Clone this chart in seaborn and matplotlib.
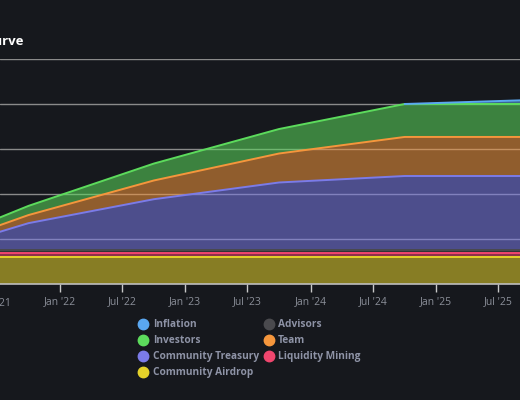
import pandas as pd
import matplotlib
matplotlib.use("Agg")
import matplotlib.pyplot as plt
import matplotlib.dates as mdates
from matplotlib.lines import Line2D
import seaborn as sns

# dati (milioni di token, valori per livello, non cumulati)
dates = ["2021-07-01", "2021-10-01", "2022-10-01", "2023-10-01", "2024-10-01", "2025-10-01"]
community_airdrop = [150, 150, 150, 150, 150, 150]
liquidity_mining = [20, 20, 20, 20, 20, 20]
advisors = [20, 20, 20, 20, 20, 20]
community_treasury = [95, 148, 281, 374, 410, 410]
team = [36, 45, 104, 161, 217, 217]
investors = [42, 51, 94, 136, 183, 183]
inflation = [0, 0, 0, 0, 0, 22]

# ordine dal basso verso l'alto
layers = [
    ("Community Airdrop", community_airdrop, "#e5d22a"),
    ("Liquidity Mining", liquidity_mining, "#f0466e"),
    ("Advisors", advisors, "#4a4a4e"),
    ("Community Treasury", community_treasury, "#7b7be8"),
    ("Team", team, "#f5963c"),
    ("Investors", investors, "#5cdb5c"),
    ("Inflation", inflation, "#5aa7f0"),
]
legend_order = ["Inflation", "Investors", "Community Treasury", "Community Airdrop",
                "Advisors", "Team", "Liquidity Mining"]

bg = "#16181d"
sns.set_theme(style="dark")
plt.rcParams["font.family"] = ["Open Sans", "DejaVu Sans"]

fig = plt.figure(figsize=(5.2, 4), dpi=100, facecolor=bg)
ax = fig.add_axes([0, 0.29, 1, 0.5625])
ax.set_facecolor(bg)

df = pd.DataFrame({"date": pd.to_datetime(dates)})
base = pd.Series([0] * len(dates), dtype=float)
colors = {}
for name, vals, col in layers:
    v = pd.Series(vals, dtype=float)
    top = base + v
    ax.fill_between(df["date"], base, top, color=col, alpha=0.55, linewidth=0, zorder=2)
    # la linea solo dove il livello ha uno spessore (o sta per averlo)
    visibile = (v > 0) | (v.shift(-1).fillna(0) > 0)
    df["top"] = top.where(visibile)
    sns.lineplot(data=df, x="date", y="top", ax=ax, color=col, linewidth=1.4, zorder=3)
    base = top
    colors[name] = col

ax.set_ylim(0, 1250)
ax.set_yticks([0, 250, 500, 750, 1000, 1250])
ax.set_yticklabels([])
ax.grid(axis="y", color="#8a8a8a", linewidth=1.0)
ax.grid(axis="x", visible=False)
ax.set_axisbelow(True)
ax.set_xlim(pd.Timestamp("2021-07-10"), pd.Timestamp("2025-09-02"))
ax.xaxis.set_major_locator(mdates.MonthLocator(bymonth=[1, 7]))
ax.xaxis.set_major_formatter(mdates.DateFormatter("%b '%y"))
ax.tick_params(axis="x", colors="#c8c8c8", labelcolor="#8b8f99", labelsize=7.5,
               length=6, width=1, direction="out", pad=3, bottom=True)
ax.tick_params(axis="y", length=0)
ax.set_xlabel("")
ax.set_ylabel("")
for s in ["top", "left", "right"]:
    ax.spines[s].set_visible(False)
ax.spines["bottom"].set_color("#bdbdbd")
ax.spines["bottom"].set_linewidth(1.2)

# etichetta del tick Jul '21, appena fuori dal bordo sinistro
ax.annotate("Jul '21", xy=(mdates.date2num(pd.Timestamp("2021-07-01")), 0),
            xycoords=("data", "axes fraction"), xytext=(0, -9.5), textcoords="offset points",
            ha="center", va="top", fontsize=7.5, color="#8b8f99", annotation_clip=False)

fig.text(24 / 520, 1 - 42 / 400, "Token Supply Curve", ha="right", va="center",
         color="white", fontsize=9.5, fontweight="bold")

handles = [Line2D([], [], marker="o", linestyle="none", markersize=7.5,
                  markerfacecolor=colors[n], markeredgecolor=colors[n]) for n in legend_order]
leg = fig.legend(handles, legend_order, ncol=2, loc="upper left",
                 bbox_to_anchor=(132 / 520, 1 - 314 / 400), frameon=False,
                 fontsize=7.3, handletextpad=0.35, columnspacing=0.35,
                 labelspacing=0.5, borderpad=0, handlelength=1.2)
for t in leg.get_texts():
    t.set_color("#8e93a6")
    t.set_fontweight("bold")

fig.savefig("out.png", dpi=100, facecolor=bg)
